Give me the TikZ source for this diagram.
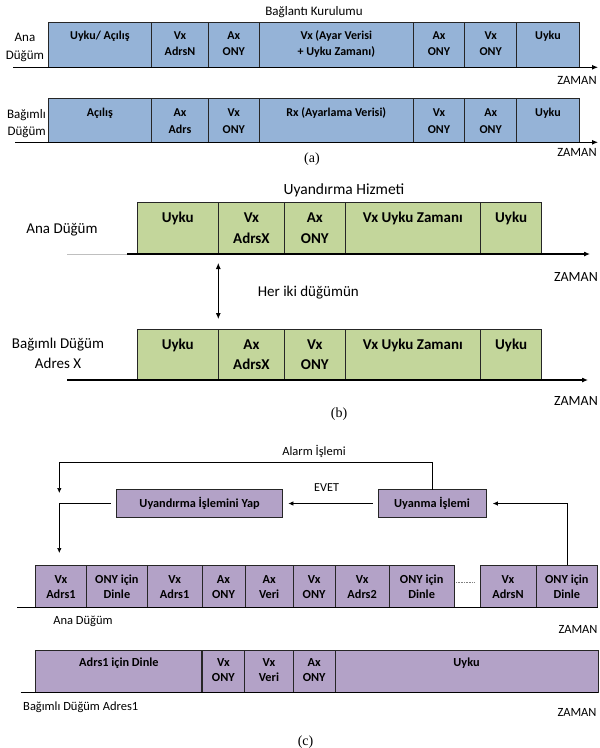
\documentclass[tikz,border=0pt]{standalone}
\usepackage{fontspec}
\setmainfont{Carlito}
\newfontfamily\capfont{Liberation Serif}
\usetikzlibrary{arrows.meta}
\definecolor{blueA}{HTML}{95B3D7}
\definecolor{greenB}{HTML}{C3D69B}
\definecolor{purpC}{HTML}{B3A2C7}
\definecolor{edge}{HTML}{262626}
\newcommand\cellt[1]{\begin{tabular}[t]{@{}c@{}}#1\end{tabular}}
\newcommand\cellr[1]{\begin{tabular}[t]{@{}r@{}}#1\end{tabular}}
% name, x1, y1, x2, y2, box style, label style, baseline offset, text
\newcommand\cellbox[9]{%
  \node[#6, anchor=north west, minimum width={#4pt-#2pt}, minimum height={#5pt-#3pt}] (#1) at (#2,#3) {};
  \node[#7, anchor=base] (#1t) at ([yshift=-#8pt]#1.north) {\cellt{#9}};}
\begin{document}
\begin{tikzpicture}[x=1pt,y=-1pt,
  cellbase/.style={draw=edge, line width=0.8pt, outer sep=0pt, inner sep=0pt},
  cellA/.style={cellbase, fill=blueA},
  cellB/.style={cellbase, fill=greenB},
  cellC/.style={cellbase, fill=purpC},
  labA/.style={inner sep=0pt, font=\fontsize{12}{16.5}\selectfont\bfseries},
  labB/.style={inner sep=0pt, font=\fontsize{15}{20.5}\selectfont\bfseries},
  labC/.style={inner sep=0pt, font=\fontsize{12.3}{15}\selectfont\bfseries},
  txt/.style={inner sep=0pt, anchor=base},
  fa/.style={font=\fontsize{13}{17.5}\selectfont},
  fb/.style={font=\fontsize{15}{20}\selectfont},
  fc/.style={font=\fontsize{12.5}{15}\selectfont},
  axis/.style={line width=0.9pt, black},
  axisarrow/.style={axis, -{Latex[length=6pt,width=5pt]}},
  conn/.style={line width=0.7pt, black, -{Latex[length=5pt,width=4.5pt]}},
  proc/.style={cellC, minimum height=28pt, font=\fontsize{12.3}{15}\selectfont\bfseries}
]
\useasboundingbox (0,0) rectangle (600,748);

% ---------------- (a) ----------------
\node[txt, font=\fontsize{13}{15}\selectfont] (atitle) at (314,15) {Bağlantı Kurulumu};
\node[txt, fa] (aana) at (25,41.7) {\cellt{Ana\\Düğüm}};
\node[txt, fa, anchor=base east] (abag) at (46,118.3) {\cellr{Bağımlı\\Düğüm}};

\cellbox{a1a}{48}{22.7}{151.7}{67.3}{cellA}{labA}{16.3}{Uyku/ Açılış}
\cellbox{a1b}{151.7}{22.7}{208.3}{67.3}{cellA}{labA}{16.3}{Vx\\AdrsN}
\cellbox{a1c}{208.3}{22.7}{259.3}{67.3}{cellA}{labA}{16.3}{Ax\\ONY}
\cellbox{a1d}{259.3}{22.7}{413.3}{67.3}{cellA}{labA}{16.3}{Vx (Ayar Verisi\\+ Uyku Zamanı)}
\cellbox{a1e}{413.3}{22.7}{464.7}{67.3}{cellA}{labA}{16.3}{Ax\\ONY}
\cellbox{a1f}{464.7}{22.7}{516.7}{67.3}{cellA}{labA}{16.3}{Vx\\ONY}
\cellbox{a1g}{516.7}{22.7}{579.3}{67.3}{cellA}{labA}{16.3}{Uyku}
\coordinate (a1L) at (13,67.3);
\coordinate (a1R) at (598,67.3);
\draw[axisarrow] (a1L) -- (a1R);
\node[txt, font=\fontsize{12.6}{15}\selectfont] (az1) at (577,84) {ZAMAN};

\cellbox{a2a}{48}{98.3}{151.7}{142.3}{cellA}{labA}{18.4}{Açılış}
\cellbox{a2b}{151.7}{98.3}{208.3}{142.3}{cellA}{labA}{18.4}{Ax\\Adrs}
\cellbox{a2c}{208.3}{98.3}{259.3}{142.3}{cellA}{labA}{18.4}{Vx\\ONY}
\cellbox{a2d}{259.3}{98.3}{413.3}{142.3}{cellA}{labA}{18.4}{Rx (Ayarlama Verisi)}
\cellbox{a2e}{413.3}{98.3}{464.7}{142.3}{cellA}{labA}{18.4}{Vx\\ONY}
\cellbox{a2f}{464.7}{98.3}{516.7}{142.3}{cellA}{labA}{18.4}{Ax\\ONY}
\cellbox{a2g}{516.7}{98.3}{579.3}{142.3}{cellA}{labA}{18.4}{Uyku}
\coordinate (a2L) at (15,142.3);
\coordinate (a2R) at (598,142.3);
\draw[axisarrow] (a2L) -- (a2R);
\node[txt, font=\fontsize{12.6}{15}\selectfont] (az2) at (577,156.7) {ZAMAN};
\node[txt, font=\capfont\fontsize{14}{16}\selectfont] (acap) at (312,162.7) {(a)};

% ---------------- (b) ----------------
\node[txt, font=\fontsize{15.5}{18}\selectfont] (btitle) at (344,194) {Uyandırma Hizmeti};
\node[txt, fb] (bana) at (62,233.3) {Ana Düğüm};
\cellbox{b1a}{137.3}{202.3}{218.3}{254}{cellB}{labB}{20.4}{Uyku}
\cellbox{b1b}{218.3}{202.3}{284.6}{254}{cellB}{labB}{20.4}{Vx\\AdrsX}
\cellbox{b1c}{284.6}{202.3}{345}{254}{cellB}{labB}{20.4}{Ax\\ONY}
\cellbox{b1d}{345}{202.3}{480.6}{254}{cellB}{labB}{20.4}{Vx Uyku Zamanı}
\cellbox{b1e}{480.6}{202.3}{541.7}{254}{cellB}{labB}{20.4}{Uyku}
\coordinate (b1L) at (67,254);
\coordinate (b1M) at (127,254);
\coordinate (b1R) at (590,254);
\draw[line width=1pt, black!25] (b1L) -- (b1M);
\draw[axisarrow, line width=1.1pt] (b1M) -- (b1R);
\node[txt, font=\fontsize{14}{16}\selectfont] (bz1) at (576,281) {ZAMAN};

\node[txt, fb] (bher) at (308.3,296) {Her iki düğümün};

\node[txt, fb] (bbag) at (58,348.3) {\cellt{Bağımlı Düğüm\\Adres X}};
\cellbox{b2a}{137.3}{329}{218.3}{380}{cellB}{labB}{20.4}{Uyku}
\cellbox{b2b}{218.3}{329}{284.6}{380}{cellB}{labB}{20.4}{Ax\\AdrsX}
\cellbox{b2c}{284.6}{329}{345}{380}{cellB}{labB}{20.4}{Vx\\ONY}
\cellbox{b2d}{345}{329}{480.6}{380}{cellB}{labB}{20.4}{Vx Uyku Zamanı}
\cellbox{b2e}{480.6}{329}{541.7}{380}{cellB}{labB}{20.4}{Uyku}
\coordinate (b2L) at (67,380);
\coordinate (b2R) at (588,380);
\draw[axisarrow, line width=1.1pt] (b2L) -- (b2R);
\node[txt, font=\fontsize{14}{16}\selectfont] (bz2) at (576,405) {ZAMAN};
\node[txt, font=\capfont\fontsize{14}{16}\selectfont] (bcap) at (339,417) {(b)};

\draw[line width=0.8pt, black, {Latex[length=6pt,width=5pt]}-{Latex[length=6pt,width=5pt]}, shorten <=9pt, shorten >=10pt] (b1a.south east) -- (b2a.north east);

% ---------------- (c) ----------------
\node[txt, fc] (calarm) at (314,455) {Alarm İşlemi};
\node[proc, minimum width=108pt] (up) at (432,503.5) {Uyanma İşlemi};
\node[proc, minimum width=166.2pt] (uy) at (199.6,503.5) {Uyandırma İşlemini Yap};
\node[txt, font=\fontsize{12.2}{15}\selectfont] (cevet) at (326.6,491.6) {EVET};

\cellbox{c1a}{35.5}{565}{86.5}{607}{cellC}{labC}{18.3}{Vx\\Adrs1}
\cellbox{c1b}{86.5}{565}{147.3}{607}{cellC}{labC}{18.3}{ONY için\\Dinle}
\cellbox{c1c}{147.3}{565}{202}{607}{cellC}{labC}{18.3}{Vx\\Adrs1}
\cellbox{c1d}{202}{565}{245}{607}{cellC}{labC}{18.3}{Ax\\ONY}
\cellbox{c1e}{245}{565}{293.3}{607}{cellC}{labC}{18.3}{Ax\\Veri}
\cellbox{c1f}{293.3}{565}{335}{607}{cellC}{labC}{18.3}{Vx\\ONY}
\cellbox{c1g}{335}{565}{389.3}{607}{cellC}{labC}{18.3}{Vx\\Adrs2}
\cellbox{c1h}{389.3}{565}{454}{607}{cellC}{labC}{18.3}{ONY için\\Dinle}
\cellbox{c1j}{480}{565}{536}{607}{cellC}{labC}{18.3}{Vx\\AdrsN}
\cellbox{c1k}{536}{565}{597.7}{607}{cellC}{labC}{18.3}{ONY için\\Dinle}
\draw[densely dotted, black!50, line width=0.6pt, shorten <=2pt, shorten >=5pt] ([yshift=3.7pt]c1h.east) -- ([yshift=3.7pt]c1j.west);
\coordinate (c1L) at (17.3,607);
\coordinate (c1R) at (598,607);
\draw[axis] (c1L) -- (c1R);
\node[txt, fc] (cana) at (83,624.3) {Ana Düğüm};
\node[txt, fc] (cz1) at (578,633.3) {ZAMAN};

% connectors
\coordinate (alarmL) at (59.3,462.3);
\coordinate (alarmT) at (59.3,493);
\draw[conn] (up.north) |- (alarmL) -- (alarmT);
\draw[conn, shorten <=5.5pt, shorten >=5.7pt] (up.west) -- (uy.east);
\draw[conn, shorten >=6.8pt] (c1k.north) |- (up.east);
\coordinate (leftT) at (59.3,565);
\draw[conn, shorten <=5.7pt, shorten >=12pt] (uy.west) -| (leftT);

\cellbox{c2a}{35.5}{650}{202.3}{692.3}{cellC}{labC}{16.7}{Adrs1 için Dinle}
\cellbox{c2b}{202.3}{650}{244.5}{692.3}{cellC}{labC}{16.7}{Vx\\ONY}
\cellbox{c2c}{244.5}{650}{293.4}{692.3}{cellC}{labC}{16.7}{Vx\\Veri}
\cellbox{c2d}{293.4}{650}{335}{692.3}{cellC}{labC}{16.7}{Ax\\ONY}
\cellbox{c2e}{335}{650}{598}{692.3}{cellC}{labC}{16.7}{Uyku}
\draw[line width=1.8pt, edge] (c2a.north east) -- (c2a.south east);
\coordinate (c2L) at (20.7,692.3);
\coordinate (c2R) at (598,692.3);
\draw[axis] (c2L) -- (c2R);
\node[txt, fc, anchor=base west] (cbag) at (23,710) {Bağımlı Düğüm Adres1};
\node[txt, fc] (cz2) at (577,716) {ZAMAN};
\node[txt, font=\capfont\fontsize{14}{16}\selectfont] (ccap) at (305.6,745) {(c)};
\end{tikzpicture}
\end{document}
